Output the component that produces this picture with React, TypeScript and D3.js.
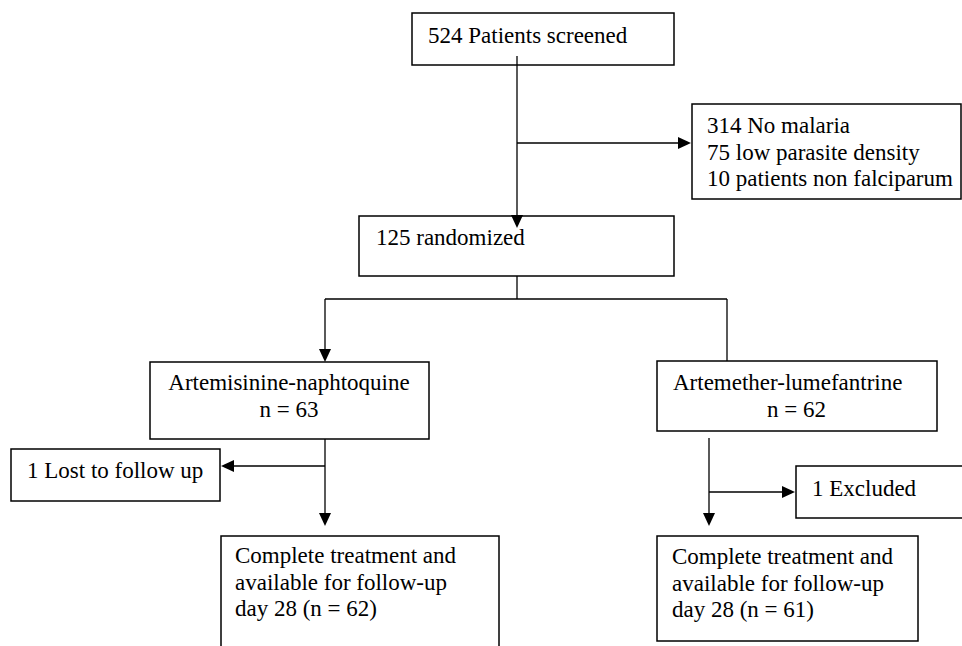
// Trial flow diagram (CONSORT style) drawn with d3 line helpers
import * as d3 from "d3";

const screened = 524;
const excludedReasons = ["314 No malaria", "75 low parasite density", "10 patients non falciparum"];
const randomized = 125;
const arms = ["Artemisinine-naphtoquine", "Artemether-lumefantrine"];
const armN = [63, 62];
const lostLabels = ["1 Lost to follow up", "1 Excluded"];
const completedN = [62, 61];

const WIDTH = 962;
const HEIGHT = 646;
const FONT = "'Liberation Serif', 'Times New Roman', serif";
const FS = 23;

type Box = { x: number; y: number; w: number; h: number };

// layout of boxes (pixel frame)
const boxScreened: Box = { x: 412, y: 13, w: 262, h: 52 };
const boxReasons: Box = { x: 692, y: 104, w: 269, h: 95 };
const boxRandom: Box = { x: 359, y: 216, w: 315, h: 60 };
const boxArms: Box[] = [
  { x: 150, y: 362, w: 279, h: 77 },
  { x: 657, y: 361, w: 280, h: 70 },
];
const boxLost: Box[] = [
  { x: 11, y: 449, w: 209, h: 52 },
  { x: 796, y: 466, w: 180, h: 52 },
];
const boxDone: Box[] = [
  { x: 221, y: 536, w: 278, h: 130 },
  { x: 657, y: 536, w: 261, h: 105 },
];

const line = d3.line<[number, number]>();

const Arrow = ({ pts }: { pts: [number, number][] }) => {
  const [x0, y0] = pts[pts.length - 2];
  const [x1, y1] = pts[pts.length - 1];
  const ang = Math.atan2(y1 - y0, x1 - x0);
  const L = 13;
  const hw = 6;
  const bx = x1 - L * Math.cos(ang);
  const by = y1 - L * Math.sin(ang);
  const nx = -Math.sin(ang) * hw;
  const ny = Math.cos(ang) * hw;
  const head: [number, number][] = [
    [x1, y1],
    [bx + nx, by + ny],
    [bx - nx, by - ny],
  ];
  const shaft = [...pts.slice(0, -1), [bx, by] as [number, number]];
  return (
    <g>
      <path d={line(shaft) || ""} fill="none" stroke="#000" strokeWidth={1.3} />
      <path d={(line(head) || "") + "Z"} fill="#000" />
    </g>
  );
};

const Seg = ({ pts }: { pts: [number, number][] }) => (
  <path d={line(pts) || ""} fill="none" stroke="#000" strokeWidth={1.3} />
);

const Rect = ({ b }: { b: Box }) => (
  <rect x={b.x} y={b.y} width={b.w} height={b.h} fill="#fff" stroke="#000" strokeWidth={1.5} />
);

const Lines = ({ x, y, lines, anchor = "start" }: { x: number; y: number; lines: string[]; anchor?: string }) => (
  <text x={x} y={y} fontFamily={FONT} fontSize={FS} fill="#000" textAnchor={anchor}>
    {lines.map((l, i) => (
      <tspan key={i} x={x} dy={i === 0 ? 0 : 26.5}>
        {l}
      </tspan>
    ))}
  </text>
);

export default function App() {
  const cx = boxScreened.x + 105; // main trunk
  const leftX = 325;
  const rightX = 727;
  const splitY = 299;
  const rightDown = 709;

  return (
    <svg
      width={WIDTH}
      height={HEIGHT}
      style={{ position: "absolute", left: 0, top: 0, background: "#fff" }}
    >
      {/* boxes */}
      <Rect b={boxScreened} />
      <Rect b={boxReasons} />
      <Rect b={boxRandom} />
      {boxArms.map((b, i) => <Rect key={"a" + i} b={b} />)}
      {boxLost.map((b, i) => <Rect key={"l" + i} b={b} />)}
      {boxDone.map((b, i) => <Rect key={"d" + i} b={b} />)}

      {/* connectors */}
      <Arrow pts={[[cx, 56], [cx, 228]]} />
      <Arrow pts={[[cx, 143], [boxReasons.x - 1, 143]]} />
      <Seg pts={[[cx, boxRandom.y + boxRandom.h], [cx, splitY]]} />
      <Seg pts={[[leftX, splitY], [rightX, splitY]]} />
      <Arrow pts={[[leftX, splitY], [leftX, boxArms[0].y]]} />
      <Seg pts={[[rightX, splitY], [rightX, boxArms[1].y]]} />

      <Arrow pts={[[leftX, boxArms[0].y + boxArms[0].h], [leftX, 526]]} />
      <Arrow pts={[[leftX, 466], [boxLost[0].x + boxLost[0].w + 1, 466]]} />

      <Arrow pts={[[rightDown, 438], [rightDown, 526]]} />
      <Arrow pts={[[rightDown, 492], [boxLost[1].x - 1, 492]]} />

      {/* texts */}
      <Lines x={428} y={43} lines={[`${screened} Patients screened`]} />
      <Lines x={707} y={133} lines={excludedReasons} />
      <Lines x={376} y={245} lines={[`${randomized} randomized`]} />
      <Lines x={289} y={390} anchor="middle" lines={[arms[0], `n = ${armN[0]}`]} />
      <text fontFamily={FONT} fontSize={FS} fill="#000">
        <tspan x={673} y={390}>{arms[1]}</tspan>
        <tspan x={767} y={417}>{`n = ${armN[1]}`}</tspan>
      </text>
      <Lines x={27} y={478} lines={[lostLabels[0]]} />
      <Lines x={812} y={496} lines={[lostLabels[1]]} />
      <Lines
        x={235}
        y={563}
        lines={["Complete treatment and", "available for follow-up", `day 28 (n = ${completedN[0]})`]}
      />
      <Lines
        x={672}
        y={564}
        lines={["Complete treatment and", "available for follow-up", `day 28 (n = ${completedN[1]})`]}
      />
    </svg>
  );
}
